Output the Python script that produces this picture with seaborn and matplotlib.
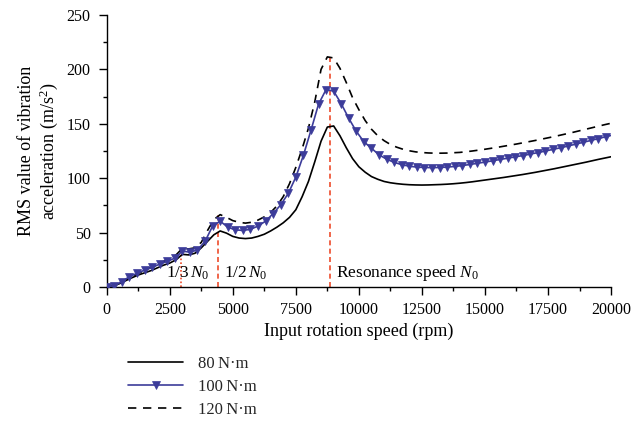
import numpy as np
import matplotlib
matplotlib.use("Agg")
import matplotlib.pyplot as plt
from matplotlib.ticker import MultipleLocator
import seaborn as sns

# Input speed grid for the two continuous curves (rpm)
rpm = np.arange(0, 20001, 250)

# RMS vibration acceleration (m/s^2) at 80 N·m
rms_80 = [
    0, 0.8, 3, 5.8, 8.5, 11, 13, 15, 17.5, 20,
    22, 25, 30, 29.5, 31, 36, 42, 48, 51.5, 49.5,
    46.5, 45, 44.5, 45, 46.5, 48.5, 51.5, 55, 59, 64,
    71, 83, 97, 115, 134, 147, 148, 139, 128, 118,
    110.5, 105.5, 101.5, 99, 97, 95.8, 95, 94.4, 94, 93.8,
    93.7, 93.8, 94, 94.2, 94.5, 94.9, 95.4, 96, 96.7, 97.5,
    98.3, 99.1, 99.9, 100.7, 101.6, 102.5, 103.4, 104.4, 105.4, 106.5,
    107.6, 108.7, 109.9, 111.1, 112.3, 113.5, 114.7, 116, 117.3, 118.5,
    119.7,
]

# RMS vibration acceleration (m/s^2) at 120 N·m
rms_120 = [
    0, 0.8, 3.5, 6.5, 9.5, 12.5, 15, 18, 20.5, 23.5,
    26, 29.5, 35.5, 35, 36, 41, 52, 62, 66.5, 64,
    61, 59.5, 58.7, 59.5, 61.5, 64.5, 68.5, 74.5, 83, 95,
    110, 127, 146, 170, 200, 211.5, 210.5, 201, 188, 174,
    163, 153, 145, 139, 134.5, 131, 128.5, 126.6, 125.2, 124.2,
    123.6, 123.2, 123, 123, 123.1, 123.4, 123.7, 124.3, 125, 125.8,
    126.6, 127.5, 128.4, 129.4, 130.4, 131.4, 132.5, 133.6, 134.7, 135.9,
    137.1, 138.3, 139.6, 140.9, 142.2, 143.6, 145, 146.4, 147.8, 149.2,
    150.5,
]

# 100 N·m curve, sampled every 300 rpm (each sample is marked) plus the end point
rpm_100 = list(range(0, 19801, 300)) + [20000]
rms_100 = [
    0, 1, 5, 9.5, 12.5, 15.5, 18, 21, 23.5, 26.5,
    33, 32, 34, 42, 56, 60.5, 55, 52.5, 52, 53,
    56, 60.5, 67.5, 75.5, 86, 101, 121, 144, 168, 181.5,
    180, 168.5, 155, 143, 133.5, 127.5, 121.5, 117.5, 114.5, 112.5,
    111, 110.2, 109.8, 109.7, 109.8, 110.2, 110.8, 111.6, 112.6, 113.7,
    114.8, 116, 117.2, 118.4, 119.6, 120.8, 122.2, 123.5, 125, 126.5,
    128, 129.6, 131.3, 133, 134.7, 136.4, 138.2,
    139.3,
]

# Resonance speed and the marked fractions of it
N0 = 8840
guide_rpm = [N0 / 3, N0 / 2, N0]
guide_top = [36, 67, 213]
guide_text = [r"1/3$\,N_0$", r"1/2$\,N_0$", r"Resonance speed $N_0$"]
guide_text_x = [2340, 4655, 9100]

series_labels = ["80\u2009N·m", "100\u2009N·m", "120\u2009N·m"]

sns.set_theme(style="ticks")
plt.rcParams["font.family"] = ["Liberation Serif", "DejaVu Serif"]
plt.rcParams["mathtext.fontset"] = "custom"
plt.rcParams["mathtext.rm"] = "Liberation Serif"
plt.rcParams["mathtext.it"] = "Liberation Serif:italic"
plt.rcParams["axes.unicode_minus"] = False

fig = plt.figure(figsize=(6.44, 4.26), dpi=100)
fig.patch.set_facecolor("white")
ax = fig.add_axes([0.1657, 0.3263, 0.7831, 0.6385])
ax.set_facecolor("white")

red = "#ee4b2b"
blue = "#3c3c9a"

# Guide lines at 1/3 N0 (dotted), 1/2 N0 and N0 (dashed)
ax.vlines(guide_rpm[0], 0, guide_top[0], colors=red, lw=1.2,
          linestyles=[(0, (1.0, 1.3))], zorder=1.5)
ax.vlines(guide_rpm[1:], 0, guide_top[1:], colors=red, lw=1.2,
          linestyles=[(0, (3, 2))], zorder=1.5)

sns.lineplot(x=rpm, y=rms_80, ax=ax, color="black", lw=1.2,
             label=series_labels[0], zorder=3)
sns.lineplot(x=rpm_100, y=rms_100, ax=ax, color=blue, lw=1.2,
             marker="v", markersize=5.2, markeredgecolor=blue,
             markeredgewidth=0.5, markevery=list(range(len(rpm_100) - 1)),
             label=series_labels[1], zorder=4)
sns.lineplot(x=rpm, y=rms_120, ax=ax, color="black", lw=1.2,
             linestyle=(0, (5, 4)), label=series_labels[2], zorder=3)

for xt, txt in zip(guide_text_x, guide_text):
    ax.text(xt, 13, txt, ha="left", va="center", fontsize=12.5, color="black")

ax.set_xlim(0, 20000)
ax.set_ylim(0, 250)
ax.xaxis.set_major_locator(MultipleLocator(2500))
ax.xaxis.set_minor_locator(MultipleLocator(1250))
ax.yaxis.set_major_locator(MultipleLocator(50))
ax.yaxis.set_minor_locator(MultipleLocator(25))
ax.tick_params(axis="both", which="major", direction="out", length=5.5,
               width=1, labelsize=11.5, color="black", labelcolor="black")
ax.tick_params(axis="both", which="minor", direction="out", length=3,
               width=1, color="black")
ax.tick_params(axis="y", which="major", pad=6)
ax.tick_params(axis="x", which="major", pad=5)

for side in ("top", "right"):
    ax.spines[side].set_visible(False)
for side in ("left", "bottom"):
    ax.spines[side].set_color("black")
    ax.spines[side].set_linewidth(1)

ax.set_xlabel("Input rotation speed (rpm)", fontsize=13, color="black")
ax.set_ylabel("RMS value of vibration\nacceleration (m/s$^2$)",
              fontsize=13, color="black", linespacing=1.12)
ax.xaxis.set_label_coords(0.5, -0.132)
ax.yaxis.set_label_coords(-0.093, 0.5)

handles, labels = ax.get_legend_handles_labels()
ax.get_legend().remove()
fig.legend(handles, labels, loc="upper left",
           bbox_to_anchor=(128 / 644, 1 - 356 / 426),
           frameon=False, fontsize=12, handlelength=3.3, handletextpad=0.9,
           labelspacing=0.42, borderpad=0, borderaxespad=0)

fig.savefig("out.png", dpi=100, facecolor="white")
